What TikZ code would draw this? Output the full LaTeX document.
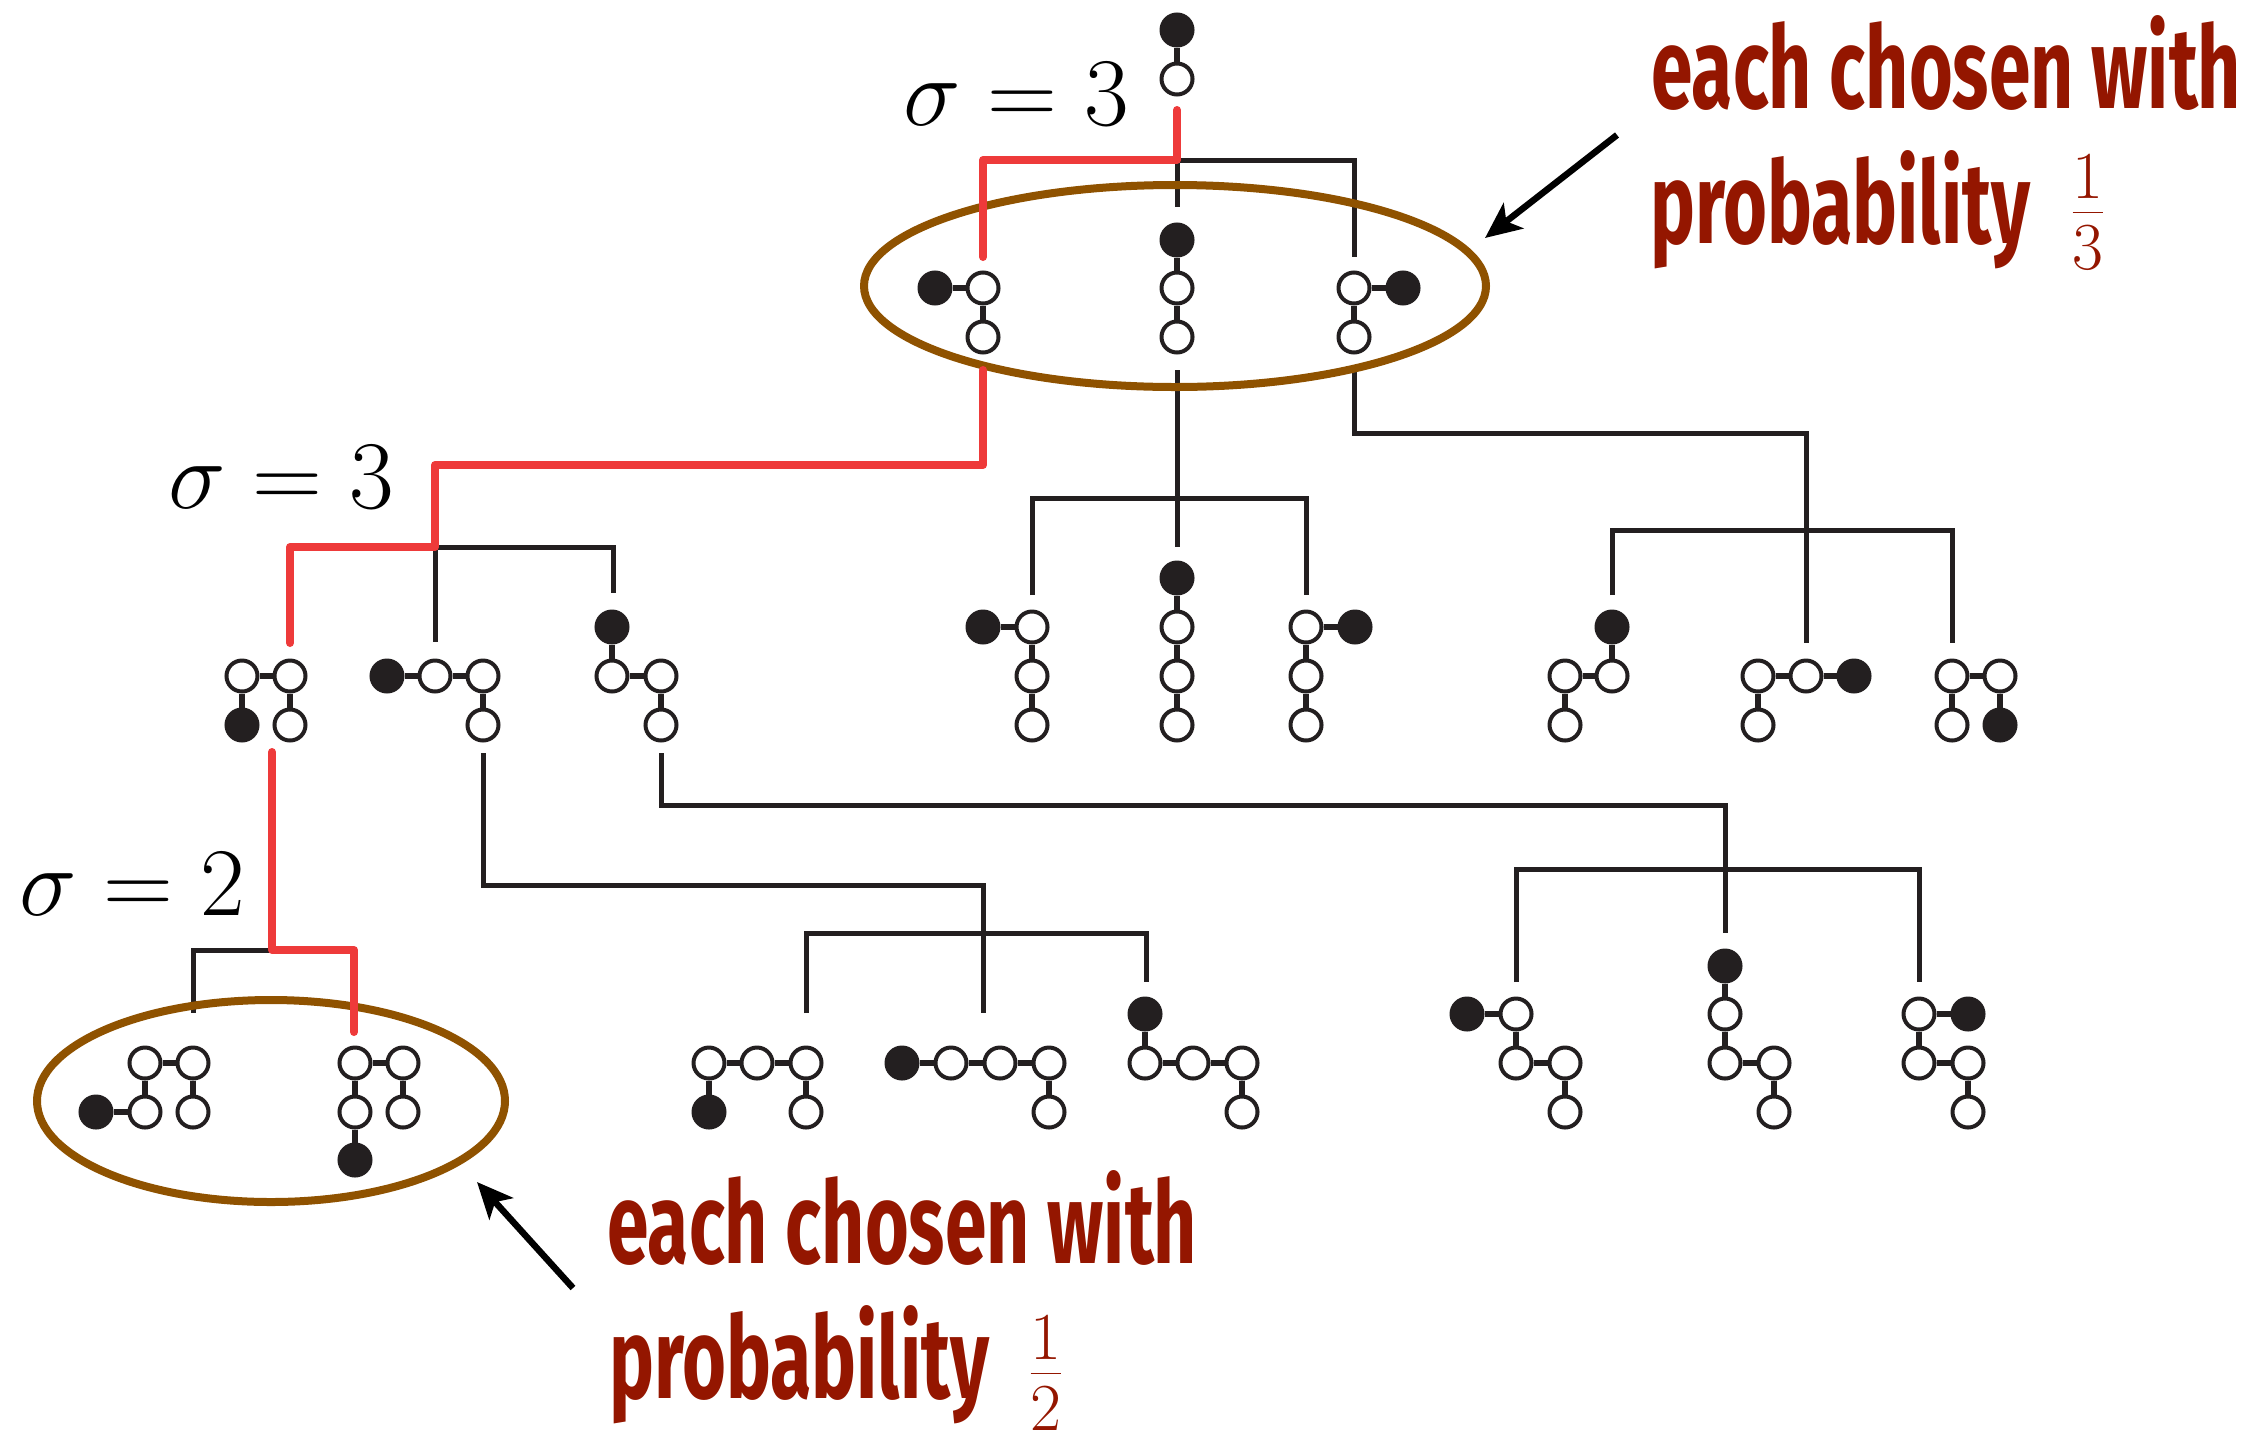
\RequirePackage{fix-cm}
\documentclass[tikz,border=0pt]{standalone}
\usepackage{fontspec}
\usepackage{graphicx}
\usetikzlibrary{arrows.meta}
\newfontfamily\labfont{Fira Sans}
\definecolor{ink}{RGB}{35,31,32}
\definecolor{labred}{RGB}{148,22,0}
\definecolor{redline}{RGB}{238,58,58}
\definecolor{brownc}{RGB}{143,82,0}
\tikzset{
  oc/.style={circle, draw=ink, fill=white, line width=4pt, minimum size=31pt, inner sep=0pt},
  fc/.style={circle, draw=ink, fill=ink, line width=4pt, minimum size=31pt, inner sep=0pt},
  bond/.style={draw=ink, line width=5.5pt},
  tree/.style={draw=ink, line width=5pt},
  chosen/.style={draw=redline, line width=8pt, line cap=round, line join=round},
  group/.style={draw=brownc, line width=8pt},
  pointer/.style={draw=black, line width=6.5pt, -{Stealth[length=36pt,width=32pt,inset=9pt]}},
  sig/.style={anchor=base west, inner sep=0pt, text=black, font=\fontsize{97}{97}\selectfont},
  lab/.style={anchor=base west, inner sep=0pt, text=labred, font=\labfont\bfseries\fontsize{120}{120}\selectfont},
  frc/.style={anchor=base, inner sep=0pt, text=labred, font=\fontsize{96}{96}\selectfont}
}
\begin{document}
\begin{tikzpicture}[x=1pt,y=-1pt]
\useasboundingbox (0,0) rectangle (2266,1430);
% ---------- tree coordinates
\coordinate (R0) at (1177,110);
\coordinate (R1) at (1177,160);
\coordinate (R2) at (983,160);
\coordinate (R3) at (983,257);
\coordinate (K1) at (1354,160);
\coordinate (K2) at (1354,257);
\coordinate (K3) at (1177,207);
\coordinate (RA0) at (983,370);
\coordinate (RA1) at (983,465);
\coordinate (RA2) at (435,465);
\coordinate (RA3) at (435,547);
\coordinate (RA4) at (290,547);
\coordinate (RA5) at (290,643);
\coordinate (KA1) at (613,547);
\coordinate (KA2) at (613,593);
\coordinate (KA3) at (435,642);
\coordinate (KB0) at (1177,370);
\coordinate (KB1) at (1177,547);
\coordinate (KB2) at (1032,498);
\coordinate (KB3) at (1306,498);
\coordinate (KB4) at (1032,595);
\coordinate (KB5) at (1306,595);
\coordinate (KC0) at (1354,370);
\coordinate (KC1) at (1354,433);
\coordinate (KC2) at (1806,433);
\coordinate (KC3) at (1806,643);
\coordinate (KC4) at (1612,530);
\coordinate (KC5) at (1952,530);
\coordinate (KC6) at (1612,595);
\coordinate (KC7) at (1952,643);
\coordinate (RD0) at (272,752);
\coordinate (RD1) at (272,950);
\coordinate (RD2) at (354,950);
\coordinate (RD3) at (354,1032);
\coordinate (KD1) at (193,950);
\coordinate (KD2) at (193,1013);
\coordinate (KE0) at (483,753);
\coordinate (KE1) at (483,885);
\coordinate (KE2) at (983,885);
\coordinate (KE3) at (983,1013);
\coordinate (KE4) at (806,933);
\coordinate (KE5) at (1146,933);
\coordinate (KE6) at (806,1013);
\coordinate (KE7) at (1146,982);
\coordinate (KG0) at (661,753);
\coordinate (KG1) at (661,805);
\coordinate (KG2) at (1725,805);
\coordinate (KG3) at (1725,933);
\coordinate (KG4) at (1516,869);
\coordinate (KG5) at (1919,869);
\coordinate (KG6) at (1516,982);
\coordinate (KG7) at (1919,982);
% ---------- tree lines
\draw[tree] (R1) -- (K1) -- (K2);
\draw[tree] (R1) -- (K3);
\draw[tree] (RA3) -- (KA1) -- (KA2);
\draw[tree] (RA3) -- (KA3);
\draw[tree] (KB0) -- (KB1);
\draw[tree] (KB4) -- (KB2) -- (KB3) -- (KB5);
\draw[tree] (KC0) -- (KC1) -- (KC2) -- (KC3);
\draw[tree] (KC6) -- (KC4) -- (KC5) -- (KC7);
\draw[tree] (RD1) -- (KD1) -- (KD2);
\draw[tree] (KE0) -- (KE1) -- (KE2) -- (KE3);
\draw[tree] (KE6) -- (KE4) -- (KE5) -- (KE7);
\draw[tree] (KG0) -- (KG1) -- (KG2) -- (KG3);
\draw[tree] (KG6) -- (KG4) -- (KG5) -- (KG7);
% groups
\draw[group] (1175,286) ellipse [x radius=311, y radius=101];
\draw[group] (271,1101) ellipse [x radius=234, y radius=101];
% chosen path
\draw[chosen] (R0) -- (R1) -- (R2) -- (R3);
\draw[chosen] (RA0) -- (RA1) -- (RA2) -- (RA3) -- (RA4) -- (RA5);
\draw[chosen] (RD0) -- (RD1) -- (RD2) -- (RD3);
% ---------- molecules
% top
\node[fc] (T1) at (1177,30) {};
\node[oc] (T2) at (1177,79) {};
% level 1
\node[fc] (a1) at (935,288) {};
\node[oc] (a2) at (983,288) {};
\node[oc] (a3) at (983,337) {};
\node[fc] (b1) at (1177,240) {};
\node[oc] (b2) at (1177,288) {};
\node[oc] (b3) at (1177,337) {};
\node[oc] (c1) at (1354,288) {};
\node[fc] (c2) at (1403,288) {};
\node[oc] (c3) at (1354,337) {};
% level 2
\node[oc] (d1) at (242,676) {};
\node[oc] (d2) at (290,676) {};
\node[fc] (d3) at (242,725) {};
\node[oc] (d4) at (290,725) {};
\node[fc] (e1) at (387,676) {};
\node[oc] (e2) at (435,676) {};
\node[oc] (e3) at (483,676) {};
\node[oc] (e4) at (483,725) {};
\node[fc] (g1) at (612,627) {};
\node[oc] (g2) at (612,676) {};
\node[oc] (g3) at (661,676) {};
\node[oc] (g4) at (661,725) {};
\node[fc] (h1) at (983,627) {};
\node[oc] (h2) at (1032,627) {};
\node[oc] (h3) at (1032,676) {};
\node[oc] (h4) at (1032,725) {};
\node[fc] (i1) at (1177,578) {};
\node[oc] (i2) at (1177,627) {};
\node[oc] (i3) at (1177,676) {};
\node[oc] (i4) at (1177,725) {};
\node[oc] (j1) at (1306,627) {};
\node[fc] (j2) at (1355,627) {};
\node[oc] (j3) at (1306,676) {};
\node[oc] (j4) at (1306,725) {};
\node[fc] (m1) at (1612,627) {};
\node[oc] (m2) at (1612,676) {};
\node[oc] (m3) at (1565,676) {};
\node[oc] (m4) at (1565,725) {};
\node[oc] (n1) at (1758,676) {};
\node[oc] (n2) at (1806,676) {};
\node[fc] (n3) at (1854,676) {};
\node[oc] (n4) at (1758,725) {};
\node[oc] (p1) at (1952,676) {};
\node[oc] (p2) at (2000,676) {};
\node[oc] (p3) at (1952,725) {};
\node[fc] (p4) at (2000,725) {};
% level 3
\node[oc] (q1) at (145,1063) {};
\node[oc] (q2) at (193,1063) {};
\node[fc] (q3) at (96,1112) {};
\node[oc] (q4) at (145,1112) {};
\node[oc] (q5) at (193,1112) {};
\node[oc] (s1) at (355,1063) {};
\node[oc] (s2) at (403,1063) {};
\node[oc] (s3) at (355,1112) {};
\node[oc] (s4) at (403,1112) {};
\node[fc] (s5) at (355,1160) {};
\node[oc] (u1) at (709,1063) {};
\node[oc] (u2) at (757,1063) {};
\node[oc] (u3) at (806,1063) {};
\node[fc] (u4) at (709,1112) {};
\node[oc] (u5) at (806,1112) {};
\node[fc] (v1) at (902,1063) {};
\node[oc] (v2) at (951,1063) {};
\node[oc] (v3) at (1000,1063) {};
\node[oc] (v4) at (1049,1063) {};
\node[oc] (v5) at (1049,1112) {};
\node[fc] (w1) at (1145,1014) {};
\node[oc] (w2) at (1145,1063) {};
\node[oc] (w3) at (1193,1063) {};
\node[oc] (w4) at (1242,1063) {};
\node[oc] (w5) at (1242,1112) {};
\node[fc] (x1) at (1467,1014) {};
\node[oc] (x2) at (1516,1014) {};
\node[oc] (x3) at (1516,1063) {};
\node[oc] (x4) at (1565,1063) {};
\node[oc] (x5) at (1565,1112) {};
\node[fc] (y1) at (1725,966) {};
\node[oc] (y2) at (1725,1014) {};
\node[oc] (y3) at (1725,1063) {};
\node[oc] (y4) at (1774,1063) {};
\node[oc] (y5) at (1774,1112) {};
\node[oc] (z1) at (1919,1014) {};
\node[fc] (z2) at (1968,1014) {};
\node[oc] (z3) at (1919,1063) {};
\node[oc] (z4) at (1968,1063) {};
\node[oc] (z5) at (1968,1112) {};
% ---------- bonds
\draw[bond] (T1) -- (T2);
\draw[bond] (a1) -- (a2); \draw[bond] (a2) -- (a3);
\draw[bond] (b1) -- (b2); \draw[bond] (b2) -- (b3);
\draw[bond] (c1) -- (c2); \draw[bond] (c1) -- (c3);
\draw[bond] (d1) -- (d2); \draw[bond] (d1) -- (d3); \draw[bond] (d2) -- (d4);
\draw[bond] (e1) -- (e2); \draw[bond] (e2) -- (e3); \draw[bond] (e3) -- (e4);
\draw[bond] (g1) -- (g2); \draw[bond] (g2) -- (g3); \draw[bond] (g3) -- (g4);
\draw[bond] (h1) -- (h2); \draw[bond] (h2) -- (h3); \draw[bond] (h3) -- (h4);
\draw[bond] (i1) -- (i2); \draw[bond] (i2) -- (i3); \draw[bond] (i3) -- (i4);
\draw[bond] (j1) -- (j2); \draw[bond] (j1) -- (j3); \draw[bond] (j3) -- (j4);
\draw[bond] (m1) -- (m2); \draw[bond] (m2) -- (m3); \draw[bond] (m3) -- (m4);
\draw[bond] (n1) -- (n2); \draw[bond] (n2) -- (n3); \draw[bond] (n1) -- (n4);
\draw[bond] (p1) -- (p2); \draw[bond] (p1) -- (p3); \draw[bond] (p2) -- (p4);
\draw[bond] (q1) -- (q2); \draw[bond] (q1) -- (q4); \draw[bond] (q2) -- (q5); \draw[bond] (q3) -- (q4);
\draw[bond] (s1) -- (s2); \draw[bond] (s1) -- (s3); \draw[bond] (s2) -- (s4); \draw[bond] (s3) -- (s5);
\draw[bond] (u1) -- (u2); \draw[bond] (u2) -- (u3); \draw[bond] (u1) -- (u4); \draw[bond] (u3) -- (u5);
\draw[bond] (v1) -- (v2); \draw[bond] (v2) -- (v3); \draw[bond] (v3) -- (v4); \draw[bond] (v4) -- (v5);
\draw[bond] (w1) -- (w2); \draw[bond] (w2) -- (w3); \draw[bond] (w3) -- (w4); \draw[bond] (w4) -- (w5);
\draw[bond] (x1) -- (x2); \draw[bond] (x2) -- (x3); \draw[bond] (x3) -- (x4); \draw[bond] (x4) -- (x5);
\draw[bond] (y1) -- (y2); \draw[bond] (y2) -- (y3); \draw[bond] (y3) -- (y4); \draw[bond] (y4) -- (y5);
\draw[bond] (z1) -- (z2); \draw[bond] (z1) -- (z3); \draw[bond] (z3) -- (z4); \draw[bond] (z4) -- (z5);
% ---------- sigma labels
\node[sig] (sg1) at (903,125) {$\sigma = 3$};
\node[sig] (sg2) at (168,508) {$\sigma = 3$};
\node[sig] (sg3) at (19,915) {$\sigma = 2$};
% ---------- annotations
\node[lab] (L1a) at (1651,108) {\resizebox{590pt}{93pt}{each chosen with}};
\node[lab] (L1b) at (1650,243) {\resizebox{380pt}{93pt}{probability}};
\node[frc] (F1) at (2088,236) {$\frac{1}{3}$};
\node[lab] (L2a) at (607,1263) {\resizebox{590pt}{93pt}{each chosen with}};
\node[lab] (L2b) at (609,1398) {\resizebox{380pt}{93pt}{probability}};
\node[frc] (F2) at (1046,1397) {$\frac{1}{2}$};
\coordinate (P1t) at (1617,135);
\coordinate (P1h) at (1485,238);
\coordinate (P2t) at (573,1288);
\coordinate (P2h) at (477,1182);
\draw[pointer] (P1t) -- (P1h);
\draw[pointer] (P2t) -- (P2h);
\end{tikzpicture}
\end{document}
